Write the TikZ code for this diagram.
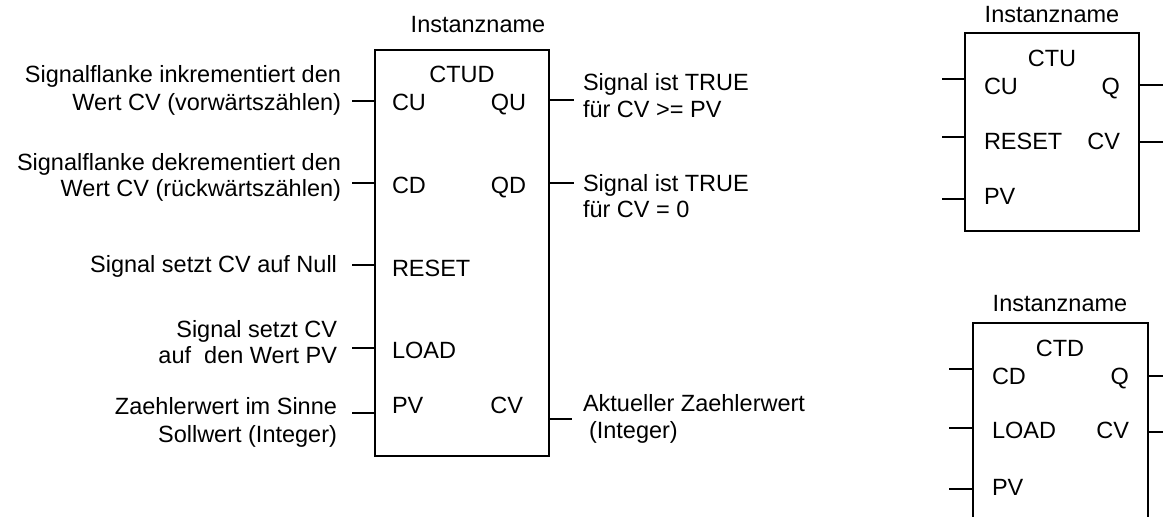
\documentclass[tikz,border=0pt]{standalone}
\usepackage{fontspec}
\setmainfont{Liberation Sans}
\begin{document}
\begin{tikzpicture}[x=1pt,y=-1pt,
  txt/.style={inner sep=0pt,outer sep=0pt,font=\fontsize{23.5}{27}\selectfont},
  lbl/.style={txt,anchor=base east},
  lbr/.style={txt,anchor=base west},
  blk/.style={draw,line width=2pt,inner sep=0pt,outer sep=0pt},
  pin/.style={line width=2pt}]
\useasboundingbox (0,0) rectangle (1163,517);
\clip (0,0) rectangle (1163,517);
% ---------- CTUD ----------
\node[blk,minimum width=174pt,minimum height=406pt] (ctud) at (462,253) {};
\node[txt,anchor=base] (ctudinst) at (478,32) {Instanzname};
\node[txt,anchor=base] (ctudname) at (462,82) {CTUD};
\node[lbr] (ctudcu) at (392,110) {CU};
\node[lbl] (ctudqu) at (526,110) {QU};
\node[lbr] (ctudcd) at (392,193) {CD};
\node[lbl] (ctudqd) at (526,193) {QD};
\node[lbr] (ctudreset) at (392,276) {RESET};
\node[lbr] (ctudload) at (392,358) {LOAD};
\node[lbr] (ctudpv) at (392,413) {PV};
\node[lbl] (ctudcv) at (523,413) {CV};
% left labels
\node[lbl] (l1a) at (341,82) {Signalflanke inkrementiert den};
\node[lbl] (l1b) at (341,110) {Wert CV (vorwärtszählen)};
\node[lbl] (l2a) at (341,170) {Signalflanke dekrementiert den};
\node[lbl] (l2b) at (341,196) {Wert CV (rückwärtszählen)};
\node[lbl] (l3) at (337,272) {Signal setzt CV auf Null};
\node[lbl] (l4a) at (337,337) {Signal setzt CV};
\node[lbl] (l4b) at (337,363) {auf~ den Wert PV};
\node[lbl] (l5a) at (337,414) {Zaehlerwert im Sinne};
\node[lbl] (l5b) at (337,442) {Sollwert (Integer)};
% right labels
\node[lbr] (r1a) at (583,90) {Signal ist TRUE};
\node[lbr] (r1b) at (583,117) {für CV >= PV};
\node[lbr] (r2a) at (583,191) {Signal ist TRUE};
\node[lbr] (r2b) at (583,217) {für CV = 0};
\node[lbr] (r3a) at (583,411) {Aktueller Zaehlerwert};
\node[lbr] (r3b) at (589,438) {(Integer)};
% pins
\coordinate (pcu) at (352,101);
\coordinate (pcd) at (352,183);
\coordinate (preset) at (352,265);
\coordinate (pload) at (352,348);
\coordinate (ppv) at (352,413);
\coordinate (pqu) at (574,100);
\coordinate (pqd) at (574,183);
\coordinate (pcv) at (572,419);
\foreach \p in {pcu,pcd,preset,pload,ppv}
  \draw[pin] (\p) -- (\p -| ctud.west);
\foreach \p in {pqu,pqd,pcv}
  \draw[pin] (\p -| ctud.east) -- (\p);
% ---------- CTU ----------
\node[blk,minimum width=174pt,minimum height=198pt] (ctu) at (1052,132) {};
\node[txt,anchor=base] (ctuinst) at (1052,22) {Instanzname};
\node[txt,anchor=base] (ctuname) at (1052,66) {CTU};
\node[lbr] (ctucu) at (984,94) {CU};
\node[lbl] (ctuq) at (1120,94) {Q};
\node[lbr] (ctureset) at (984,149) {RESET};
\node[lbl] (ctucv) at (1120,149) {CV};
\node[lbr] (ctupv) at (984,204) {PV};
\coordinate (ucu) at (942,79);
\coordinate (ureset) at (942,137);
\coordinate (upv) at (942,199);
\coordinate (uq) at (1163,85);
\coordinate (ucv) at (1163,142);
\foreach \p in {ucu,ureset,upv}
  \draw[pin] (\p) -- (\p -| ctu.west);
\foreach \p in {uq,ucv}
  \draw[pin] (\p -| ctu.east) -- (\p);
% ---------- CTD ----------
\node[blk,minimum width=175pt,minimum height=240pt] (ctd) at (1060.5,443) {};
\node[txt,anchor=base] (ctdinst) at (1060,311) {Instanzname};
\node[txt,anchor=base] (ctdname) at (1060,356) {CTD};
\node[lbr] (ctdcd) at (992,384) {CD};
\node[lbl] (ctdq) at (1129,384) {Q};
\node[lbr] (ctdload) at (992,438) {LOAD};
\node[lbl] (ctdcv) at (1129,438) {CV};
\node[lbr] (ctdpv) at (992,495) {PV};
\coordinate (dcd) at (949,369);
\coordinate (dload) at (949,428);
\coordinate (dpv) at (949,489);
\coordinate (dq) at (1163,376);
\coordinate (dcv) at (1163,432);
\foreach \p in {dcd,dload,dpv}
  \draw[pin] (\p) -- (\p -| ctd.west);
\foreach \p in {dq,dcv}
  \draw[pin] (\p -| ctd.east) -- (\p);
\end{tikzpicture}
\end{document}
